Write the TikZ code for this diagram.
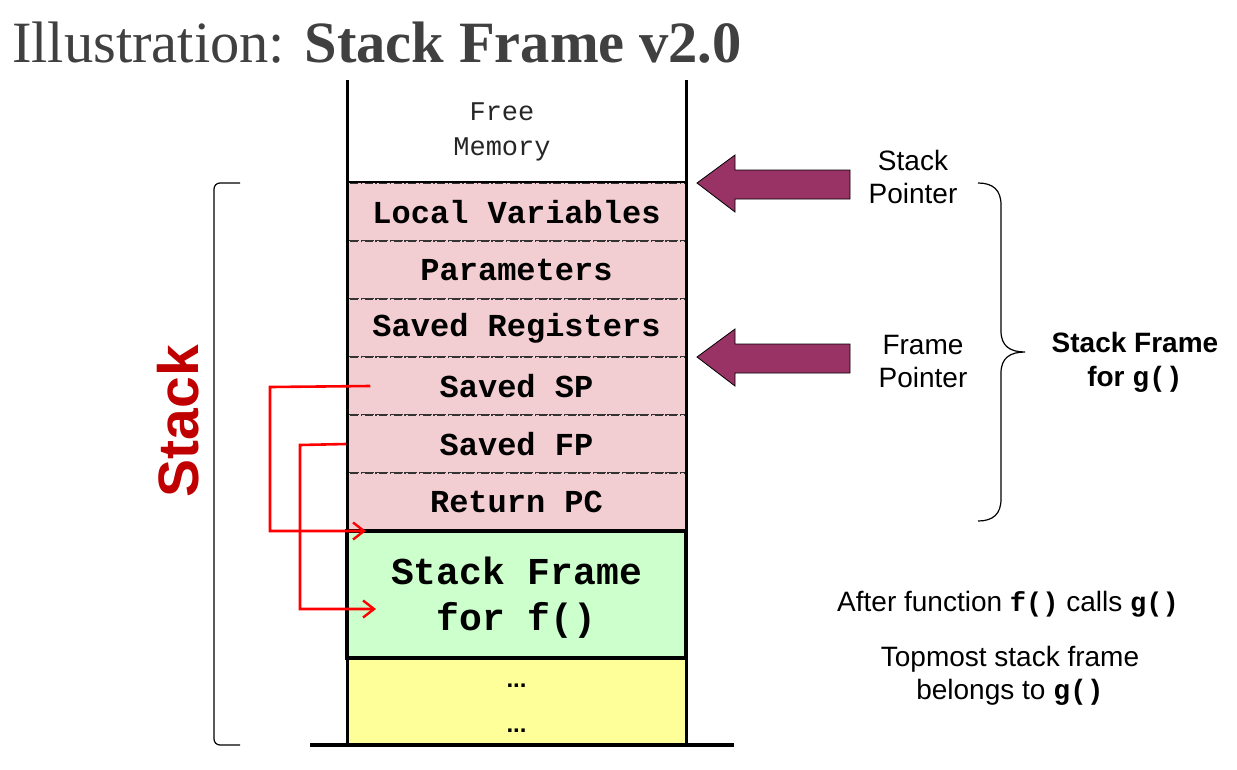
\documentclass[tikz,border=0pt]{standalone}
\usepackage{fontspec}
\setmainfont{Liberation Serif}
\setmonofont{Liberation Mono}
\newfontfamily\arial{Liberation Sans}
\usetikzlibrary{arrows.meta}
\definecolor{pinkrow}{RGB}{242,206,210}
\definecolor{greenrow}{RGB}{204,255,204}
\definecolor{yellowrow}{RGB}{255,255,153}
\definecolor{ptrpurple}{RGB}{153,51,102}
\definecolor{stackred}{RGB}{192,0,0}
\definecolor{titlegray}{RGB}{64,64,64}
\begin{document}
\begin{tikzpicture}[x=1pt,y=-1pt,
  rowbox/.style={draw=black!80, line width=1.5pt, dash pattern=on 8pt off 2.5pt on 1.5pt off 2.5pt,
    fill=pinkrow, minimum width=339pt, minimum height=58pt, inner sep=0pt,
    font=\ttfamily\bfseries\fontsize{32}{36}\selectfont},
  ptrshape/.style={fill=ptrpurple, draw=black, line width=0.8pt},
  sidetext/.style={align=center, inner sep=0pt, font=\arial\fontsize{28}{33}\selectfont},
  redarr/.style={draw=red, line width=2.6pt, -{Straight Barb[length=11pt,width=17pt,line width=2.4pt]}},
  bracestyle/.style={draw=black, line width=1.2pt}
]
\useasboundingbox (0,0) rectangle (1237,769);

% title
\node[anchor=base west, inner sep=0pt, text=titlegray, font=\fontsize{58.5}{64}\selectfont] (title) at (12,62)
  {Illustration: \textbf{Stack Frame v2.0}};

% free memory
\node[inner sep=0pt, align=center, text=black!85, font=\ttfamily\fontsize{27}{35}\selectfont] (free) at (502,132) {Free\\Memory};

% pink rows
\node[rowbox] (lv)  at (516.5,212) {Local Variables};
\node[rowbox] (par) at (516.5,270) {Parameters};
\node[rowbox] (sr)  at (516.5,328) {\raisebox{-1.5pt}{Saved Registers}};
\node[rowbox] (ssp) at (516.5,386) {Saved SP};
\node[rowbox] (sfp) at (516.5,444) {Saved FP};
\node[rowbox] (rpc) at (516.5,502) {Return PC};

% yellow
\node[fill=yellowrow, minimum width=339pt, minimum height=87pt, inner sep=0pt] (yel) at (516.5,701.5) {};
\node[inner sep=0pt, font=\arial\bfseries\fontsize{24}{24}\selectfont] (dots1) at (516.5,686) {...};
\node[inner sep=0pt, font=\arial\bfseries\fontsize{24}{24}\selectfont] (dots2) at (516.5,731) {...};

% green frame
\node[fill=greenrow, draw=black, line width=3.5pt, minimum width=339pt, minimum height=127pt, inner sep=0pt] (fsf) at (516.5,594.5) {};
\node[inner sep=0pt, align=center, font=\ttfamily\bfseries\fontsize{38}{46}\selectfont] (fsftxt) at (516.5,597.5) {Stack Frame\\for f()};

% column walls
\coordinate (wlt) at (347,80);
\coordinate (wlb) at (347,745);
\coordinate (wrt) at (686,80);
\coordinate (wrb) at (686,745);
\draw[line width=3pt] (wlt) -- (wlb);
\draw[line width=3pt] (wrt) -- (wrb);
\draw[line width=2pt] (lv.north west) -- (lv.north east);
\coordinate (basel) at (310,745);
\coordinate (baser) at (734,745);
\draw[line width=4.5pt] (basel) -- (baser);

% pointer arrows
\draw[ptrshape] (697,183) -- (735,155) -- (735,170) -- (850,170) -- (850,199) -- (735,199) -- (735,212) -- cycle;
\draw[ptrshape] (697,357) -- (735,329) -- (735,344) -- (850,344) -- (850,373) -- (735,373) -- (735,386) -- cycle;
\node[sidetext] (sptxt) at (913,177) {Stack\\Pointer};
\node[sidetext] (fptxt) at (923,361) {Frame\\Pointer};

% right brace
\draw[bracestyle] (978,183) .. controls (993,183) and (1001,190) .. (1001,205) -- (1001,331)
  .. controls (1001,346) and (1010,352) .. (1025,352)
  .. controls (1010,352) and (1001,358) .. (1001,373) -- (1001,499)
  .. controls (1001,514) and (993,521) .. (978,521);
\node[sidetext, font=\arial\bfseries\fontsize{28}{34}\selectfont] (sfg) at (1135,362)
  {Stack Frame\\for {\ttfamily g()}};

% left bracket
\draw[bracestyle, rounded corners=6pt] (240,183) -- (214,183) -- (214,745) -- (240,745);
\node[rotate=90, inner sep=0pt, text=stackred, font=\arial\bfseries\fontsize{57}{60}\selectfont] (stk) at (178,421) {Stack};

% red arrows
\coordinate (sptgt) at (366,531);
\coordinate (fptgt) at (376,609);
\draw[redarr] ([xshift=24pt]ssp.west) -- (270,387) |- (sptgt);
\draw[redarr] (sfp.west) -- (300,445) |- (fptgt);

% bottom text
\node[sidetext, font=\arial\fontsize{28}{33}\selectfont] (after) at (1008,604)
  {After function {\ttfamily\bfseries\fontsize{27}{33}\selectfont f()} calls {\ttfamily\bfseries\fontsize{27}{33}\selectfont g()}};
\node[sidetext] (topm) at (1010,676) {Topmost stack frame\\belongs to {\ttfamily\bfseries g()}};
\end{tikzpicture}
\end{document}
